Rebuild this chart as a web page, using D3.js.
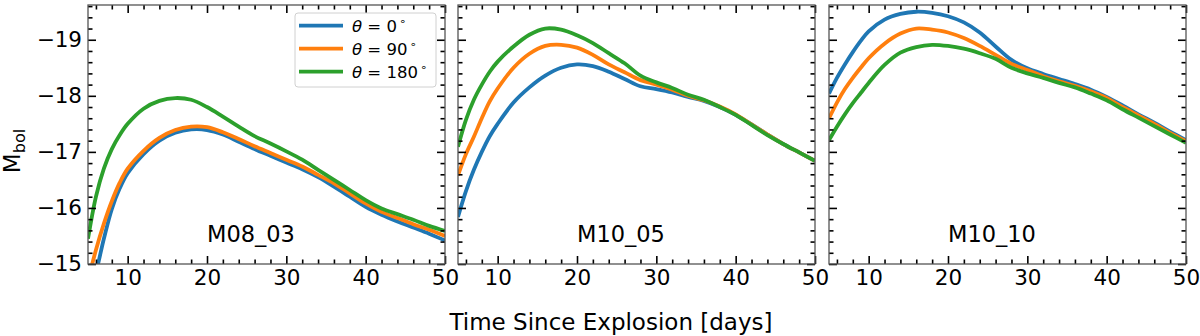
<!DOCTYPE html>
<html>
<head>
<meta charset="utf-8">
<script src="https://cdn.jsdelivr.net/npm/d3@7"></script>
<style>
  body { margin: 0; background: #fff; }
  svg { display: block; font-family: "DejaVu Sans", sans-serif; }
  .tick text { font-family: "DejaVu Sans", sans-serif; fill: #000; }
</style>
</head>
<body>
<div id="chart"></div>
<script>
// days since explosion (shared by all models)
var days = [5, 6, 7, 8, 9, 10, 12, 14, 16, 18, 20, 22, 24, 26, 28, 30, 32, 34, 36, 38, 40, 42, 44, 46, 48, 50];

var models = ["M08_03", "M10_05", "M10_10"];
var angles = ["0", "90", "180"];
var colors = ["#1f77b4", "#ff7f0e", "#2ca02c"];

// M_bol per viewing angle, model M08_03
var m0803_t0   = [-14.4, -14.85, -15.45, -15.98, -16.35, -16.62, -16.96, -17.2, -17.34, -17.4, -17.39, -17.31, -17.18, -17.05, -16.93, -16.81, -16.69, -16.55, -16.38, -16.2, -16.02, -15.88, -15.76, -15.65, -15.54, -15.42];
var m0803_t90  = [-14.7, -15.25, -15.72, -16.12, -16.45, -16.7, -17.02, -17.25, -17.39, -17.45, -17.44, -17.35, -17.23, -17.1, -16.98, -16.86, -16.74, -16.59, -16.44, -16.26, -16.08, -15.93, -15.82, -15.71, -15.61, -15.5];
var m0803_t180 = [-15.45, -16.2, -16.7, -17.05, -17.3, -17.5, -17.77, -17.91, -17.96, -17.93, -17.8, -17.63, -17.45, -17.28, -17.15, -17.01, -16.86, -16.68, -16.5, -16.32, -16.14, -15.99, -15.89, -15.79, -15.68, -15.59];

// model M10_05
var m1005_t0   = [-15.84, -16.3, -16.68, -17.0, -17.28, -17.5, -17.88, -18.15, -18.36, -18.5, -18.56, -18.53, -18.43, -18.3, -18.17, -18.12, -18.06, -17.98, -17.91, -17.8, -17.66, -17.49, -17.31, -17.14, -16.99, -16.84];
var m1005_t90  = [-16.58, -16.96, -17.27, -17.6, -17.9, -18.13, -18.5, -18.75, -18.89, -18.91, -18.86, -18.73, -18.56, -18.42, -18.28, -18.2, -18.11, -18.0, -17.92, -17.81, -17.67, -17.49, -17.31, -17.14, -16.99, -16.84];
var m1005_t180 = [-17.09, -17.57, -17.93, -18.2, -18.43, -18.61, -18.88, -19.09, -19.2, -19.18, -19.08, -18.94, -18.76, -18.58, -18.36, -18.24, -18.14, -18.02, -17.93, -17.8, -17.66, -17.48, -17.3, -17.14, -16.99, -16.84];

// model M10_10
var m1010_t0   = [-18.04, -18.32, -18.56, -18.78, -18.98, -19.15, -19.36, -19.46, -19.5, -19.48, -19.42, -19.31, -19.13, -18.88, -18.64, -18.49, -18.39, -18.3, -18.21, -18.11, -17.98, -17.83, -17.67, -17.52, -17.36, -17.21];
var m1010_t90  = [-17.6, -17.88, -18.12, -18.32, -18.5, -18.67, -18.93, -19.11, -19.2, -19.18, -19.13, -19.03, -18.89, -18.73, -18.57, -18.46, -18.35, -18.26, -18.18, -18.08, -17.96, -17.8, -17.65, -17.5, -17.34, -17.19];
var m1010_t180 = [-17.21, -17.45, -17.67, -17.87, -18.05, -18.23, -18.55, -18.77, -18.87, -18.91, -18.89, -18.84, -18.76, -18.66, -18.5, -18.4, -18.32, -18.23, -18.15, -18.04, -17.92, -17.76, -17.61, -17.46, -17.31, -17.16];

var xMajor = [10, 20, 30, 40, 50];
var xMinor = [6, 8, 12, 14, 16, 18, 22, 24, 26, 28, 32, 34, 36, 38, 42, 44, 46, 48];
var yMajor = [-15, -16, -17, -18, -19];
var yMinor = [-15.2, -15.4, -15.6, -15.8, -16.2, -16.4, -16.6, -16.8, -17.2, -17.4, -17.6, -17.8, -18.2, -18.4, -18.6, -18.8, -19.2, -19.4, -19.6];

var series = [
    [m0803_t0, m0803_t90, m0803_t180],
    [m1005_t0, m1005_t90, m1005_t180],
    [m1010_t0, m1010_t90, m1010_t180]
];

var width = 1200, height = 336;
var panelLeft = [88, 458, 829];
var panelTop = 5,
    pw = 357,
    ph = 259;

var x = d3.scaleLinear().domain([5, 50]).range([0, pw]);
var y = d3.scaleLinear().domain([-15, -19.62]).range([ph, 0]);

var svg = d3.select("#chart").append("svg")
    .attr("width", width)
    .attr("height", height);

var line = d3.line()
    .x(function(d) { return x(d[0]); })
    .y(function(d) { return y(d[1]); })
    .curve(d3.curveCatmullRom.alpha(0.5));

function fmt(v) { return (v < 0 ? "\u2212" : "") + Math.abs(v); }

function drawPanel(p) {
    var g = svg.append("g")
        .attr("transform", "translate(" + panelLeft[p] + "," + panelTop + ")");

    g.append("clipPath").attr("id", "clip" + p)
        .append("rect").attr("width", pw).attr("height", ph);

    // curves: 0, 90, 180 deg (green ends up on top)
    var lines = g.append("g").attr("clip-path", "url(#clip" + p + ")");
    series[p].forEach(function(vals, k) {
        lines.append("path")
            .datum(days.map(function(d, i) { return [d, vals[i]]; }))
            .attr("fill", "none")
            .attr("stroke", colors[k])
            .attr("stroke-width", 3.8)
            .attr("stroke-linejoin", "round")
            .attr("d", line);
    });

    // ticks pointing inwards on all four sides
    var axes = [
        [d3.axisBottom, x, xMajor, 8, "translate(0," + ph + ")", true],
        [d3.axisBottom, x, xMinor, 4.5, "translate(0," + ph + ")", false],
        [d3.axisTop, x, xMajor, 8, null, false],
        [d3.axisTop, x, xMinor, 4.5, null, false],
        [d3.axisLeft, y, yMajor, 8, null, p == 0],
        [d3.axisLeft, y, yMinor, 4.5, null, false],
        [d3.axisRight, y, yMajor, 8, "translate(" + pw + ",0)", false],
        [d3.axisRight, y, yMinor, 4.5, "translate(" + pw + ",0)", false]
    ];
    axes.forEach(function(a) {
        var ax = a[0](a[1]).tickValues(a[2]).tickSize(-a[3]).tickPadding(6)
            .tickFormat(a[5] ? fmt : "");
        var ag = g.append("g").attr("transform", a[4]).call(ax);
        ag.select(".domain").remove();
        ag.selectAll(".tick line").attr("stroke", "#000").attr("stroke-width", 1.6);
        ag.selectAll(".tick text").attr("font-size", 21.5);
    });

    g.append("rect")
        .attr("width", pw)
        .attr("height", ph)
        .attr("fill", "none")
        .attr("stroke", "#555")
        .attr("stroke-width", 1.3);

    g.append("text")
        .attr("x", x(20))
        .attr("y", y(-15.4))
        .attr("font-size", 22.5)
        .attr("fill", "#000")
        .text(models[p]);

    return g;
}

var g0 = drawPanel(0);
drawPanel(1);
drawPanel(2);

// legend, upper right of the first panel
var legend = g0.append("g").attr("transform", "translate(207,8)");
legend.append("rect")
    .attr("width", 141)
    .attr("height", 74)
    .attr("rx", 3)
    .attr("fill", "#fff")
    .attr("fill-opacity", 0.8)
    .attr("stroke", "#d0d0d0");
angles.forEach(function(a, k) {
    var ly = 12.7 + k * 23;
    legend.append("line")
        .attr("x1", 4).attr("x2", 48)
        .attr("y1", ly).attr("y2", ly)
        .attr("stroke", colors[k])
        .attr("stroke-width", 3.8);
    var t = legend.append("text")
        .attr("x", 57)
        .attr("y", ly + 6)
        .attr("font-size", 16.5)
        .attr("fill", "#000");
    t.append("tspan").attr("font-style", "italic").text("\u03b8");
    t.append("tspan").text(" = " + a);
    t.append("tspan").attr("font-size", 11).attr("dy", -7).attr("dx", 2).text("\u2218");
});

// axis titles
svg.append("text")
    .attr("x", 611)
    .attr("y", 330)
    .attr("text-anchor", "middle")
    .attr("font-size", 23)
    .text("Time Since Explosion [days]");

var ylab = svg.append("text")
    .attr("transform", "translate(20,151) rotate(-90)")
    .attr("text-anchor", "middle")
    .attr("font-size", 23);
ylab.append("tspan").text("M");
ylab.append("tspan").attr("font-size", 16).attr("dy", 5).text("bol");
</script>
</body>
</html>
